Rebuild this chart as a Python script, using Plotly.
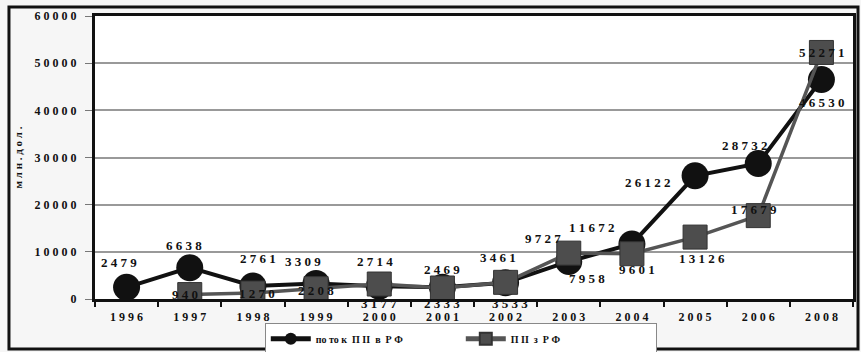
import plotly.graph_objects as go

# Years on the category axis (2007 is not shown)
years = ["1996", "1997", "1998", "1999", "2000", "2001", "2002",
         "2003", "2004", "2005", "2006", "2008"]

# Inflow of direct investment into the RF, mln USD
inflow = [2479, 6638, 2761, 3309, 2714, 2469, 3461,
          7958, 11672, 26122, 28732, 46530]

# Direct investment from the RF, mln USD (no value for 1996)
outflow = [None, 940, 1270, 2208, 3177, 2333, 3533,
           9727, 9601, 13126, 17679, 52271]

y_ticks = [0, 10000, 20000, 30000, 40000, 50000, 60000]

name_in = "по то к  П ІІ  в  Р Ф"
name_out = "П ІІ  з  Р Ф"

# label offsets (px) around each point
off_in = [(-8, 25), (-6, 22), (5, 27), (-13, 22), (-4, 25), (0, 18), (-8, 25),
          (18, -17), (-40, 16), (-47, -7), (-13, 18), (1, -23)]
off_out = [None, (-5, 0), (4, 0), (0, -2), (0, -19), (0, -15), (4, -21),
           (-26, 15), (5, -16), (7, -21), (-4, 6), (1, 0)]


def spaced(v):
    return " ".join(str(v))


SERIF = "Liberation Serif"
INK = "#111111"


def bold(size):
    return dict(family=SERIF, size=size, color=INK, weight="bold")


# category labels with letter spacing
cats = [spaced(y) for y in years]

fig = go.Figure()

fig.add_trace(go.Scatter(
    x=cats, y=inflow, mode="lines+markers", name=name_in,
    line=dict(color=INK, width=4),
    marker=dict(symbol="circle", size=27, color=INK),
))
fig.add_trace(go.Scatter(
    x=cats, y=outflow, mode="lines+markers", name=name_out,
    line=dict(color="#555555", width=3.5),
    marker=dict(symbol="square", size=24, color="#4d4d4d",
                line=dict(color="#333333", width=1)),
))

annotations = []
for c, v, off in zip(cats, inflow, off_in):
    annotations.append(dict(x=c, y=v, xref="x", yref="y",
                            text=spaced(v), showarrow=False,
                            xshift=off[0], yshift=off[1], font=bold(13)))
for c, v, off in zip(cats, outflow, off_out):
    if v is None:
        continue
    annotations.append(dict(x=c, y=v, xref="x", yref="y",
                            text=spaced(v), showarrow=False,
                            xshift=off[0], yshift=off[1], font=bold(13)))

fig.update_layout(
    width=861, height=352,
    margin=dict(l=95, r=8, t=16, b=53, autoexpand=False),
    paper_bgcolor="#f6f6f6",
    plot_bgcolor="#ffffff",
    font=bold(12),
    showlegend=True,
    legend=dict(
        orientation="h", x=0.224, xanchor="left", y=-0.086, yanchor="top",
        bgcolor="#ffffff", bordercolor="#888888", borderwidth=1,
        font=bold(10), itemsizing="constant",
        entrywidth=140, entrywidthmode="pixels",
        itemwidth=40,
    ),
    annotations=annotations,
    shapes=[
        # outer frame around the whole chart
        dict(type="rect", xref="paper", yref="paper",
             x0=-0.1135, x1=1.0066, y0=-0.1767, y1=1.0318,
             line=dict(color=INK, width=3), fillcolor="rgba(0,0,0,0)"),
    ],
)

fig.update_xaxes(
    type="category", categoryorder="array", categoryarray=cats,
    range=[-0.5, len(cats) - 0.5],
    tickson="boundaries", ticks="outside", ticklen=5, tickwidth=2,
    tickcolor=INK, ticklabelstandoff=5,
    showline=True, linecolor=INK, linewidth=3, mirror=True,
    showgrid=False,
    tickfont=bold(12),
)
fig.update_yaxes(
    range=[0, 60000], tickvals=y_ticks, ticktext=[spaced(t) for t in y_ticks],
    ticks="outside", ticklen=7, tickwidth=1, tickcolor="#777777",
    ticklabelstandoff=6,
    showline=True, linecolor=INK, linewidth=3, mirror=True,
    showgrid=True, gridcolor="#999999", gridwidth=1.5,
    zeroline=False,
    tickfont=bold(12),
    title=dict(text="м л н . д о л .", standoff=10, font=bold(11)),
)

fig.write_html("out.html")
